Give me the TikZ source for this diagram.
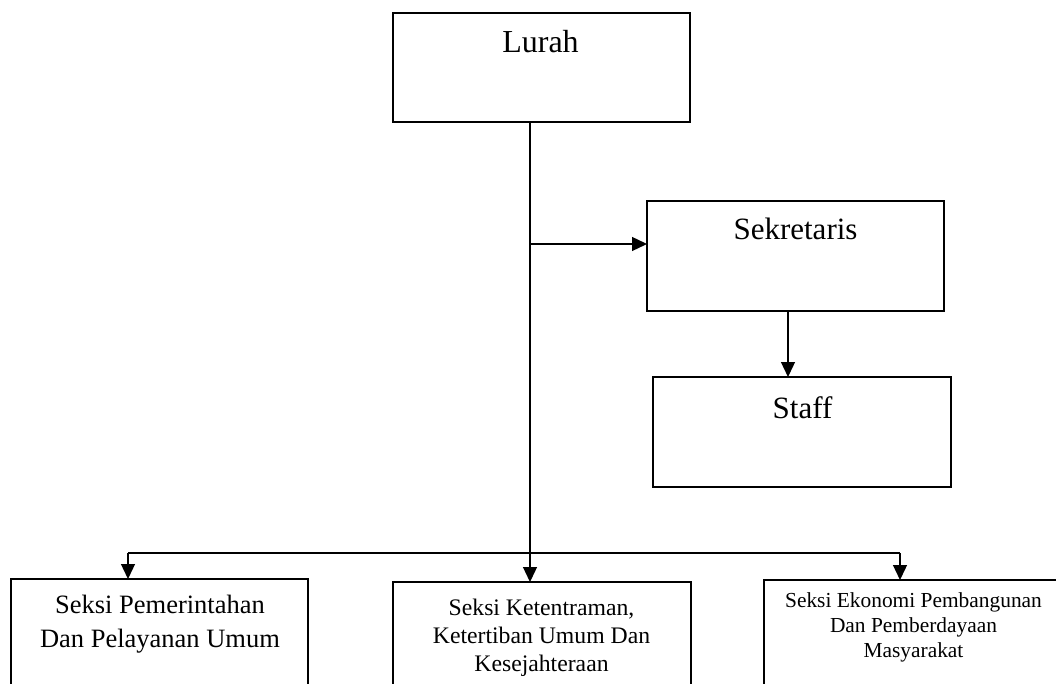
\documentclass[tikz,border=0pt]{standalone}
\usepackage{fontspec}
\setmainfont{Liberation Serif}
\usetikzlibrary{arrows.meta}
\begin{document}
\begin{tikzpicture}[x=1pt,y=-1pt,
  boxstyle/.style={draw=black, line width=1.3pt, rectangle, inner sep=0pt, outer sep=0pt},
  txt/.style={inner sep=0pt, outer sep=0pt, anchor=base, align=center},
  conn/.style={draw=black, line width=1.3pt},
  arr/.style={conn, -{Triangle[length=15pt,width=14pt]}}]
\useasboundingbox (0,0) rectangle (1056,684);
% boxes
\node[boxstyle, minimum width=297pt, minimum height=109pt] (lurah) at (541.5,67.5) {};
\node[boxstyle, minimum width=297pt, minimum height=110pt] (sek) at (795.5,256) {};
\node[boxstyle, minimum width=298pt, minimum height=110pt] (staff) at (802,432) {};
\node[boxstyle, minimum width=297pt, minimum height=200pt] (b1) at (159.5,679) {};
\node[boxstyle, minimum width=298pt, minimum height=200pt] (b2) at (542,682) {};
\node[boxstyle, minimum width=298pt, minimum height=200pt] (b3) at (913,680) {};
% texts
\node[txt, font=\fontsize{32}{38}\selectfont] (tl) at (540.5,53) {Lurah};
\node[txt, font=\fontsize{31}{37}\selectfont] (ts) at (795.5,240) {Sekretaris};
\node[txt, font=\fontsize{31}{37}\selectfont] (tst) at (802.5,418) {Staff};
\node[txt, font=\fontsize{26.5}{34}\selectfont] (t1) at (160,647) {Seksi Pemerintahan\\Dan Pelayanan Umum};
\node[txt, font=\fontsize{23.7}{28}\selectfont] (t2) at (541.5,671) {Seksi Ketentraman,\\Ketertiban Umum Dan\\Kesejahteraan};
\node[txt, font=\fontsize{21.4}{25}\selectfont] (t3) at (913.5,657) {Seksi Ekonomi Pembangunan\\Dan Pemberdayaan\\Masyarakat};
% connectors
\coordinate (top) at (530,122);
\coordinate (mid) at (530,244);
\coordinate (hl) at (128,553);
\coordinate (hr) at (900,553);
\coordinate (hm) at (530,553);
\draw[conn] (top) -- (mid);
\draw[arr] (mid) -- (sek.west |- mid);
\draw[arr] (mid) -- (top |- b2.north);
\draw[arr] (sek.south -| 788,0) -- (staff.north -| 788,0);
\draw[conn] (hl) -- (hr);
\draw[arr] (hl) -- (hl |- b1.north);
\draw[arr] (hr) -- (hr |- b3.north);
\end{tikzpicture}
\end{document}
